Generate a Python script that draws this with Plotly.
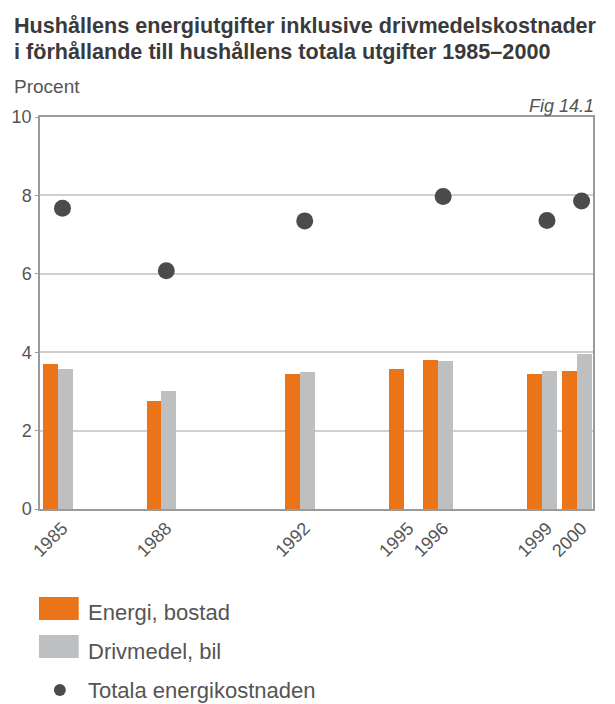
import plotly.graph_objects as go

# Survey years and shares of total household spending (percent)
years = [1985, 1988, 1992, 1995, 1996, 1999, 2000]
energi_bostad = [3.71, 2.76, 3.45, 3.56, 3.80, 3.44, 3.52]
drivmedel_bil = [3.58, 3.02, 3.50, None, 3.77, 3.52, 3.95]
totala = [7.67, 6.08, 7.35, 7.97, 7.36, 7.86]
totala_years = [1985, 1988, 1992, 1996, 1999, 2000]

y_ticks = [0, 2, 4, 6, 8, 10]

ORANGE = "#ec7418"
GREY_BAR = "#bdbfc0"
DOT = "#4b4b4b"
TEXT = "#555555"
FONT = "Liberation Sans"

W, H = 615, 704
L, R, T, B = 36, 22, 117, 195

fig = go.Figure()

fig.add_bar(
    x=years, y=energi_bostad, width=0.43, offset=-0.57,
    marker=dict(color=ORANGE, line=dict(width=0)),
    name="Energi, bostad", showlegend=False,
)
fig.add_bar(
    x=years, y=drivmedel_bil, width=0.43, offset=-0.14,
    marker=dict(color=GREY_BAR, line=dict(width=0)),
    name="Drivmedel, bil", showlegend=False,
)
fig.add_scatter(
    x=totala_years, y=totala, mode="markers",
    marker=dict(color=DOT, size=17, line=dict(width=0)),
    name="Totala energikostnaden", showlegend=False,
)

pw = W - L - R
ph = H - T - B


def px(x):
    return (x - L) / pw


def py(y):
    return (H - B - y) / ph


shapes = [
    # legend swatches
    dict(type="rect", xref="paper", yref="paper",
         x0=px(35), x1=px(75), y0=py(620), y1=py(597),
         fillcolor=ORANGE, line=dict(width=0)),
    dict(type="rect", xref="paper", yref="paper",
         x0=px(35), x1=px(75), y0=py(658), y1=py(635),
         fillcolor=GREY_BAR, line=dict(width=0)),
    dict(type="circle", xref="paper", yref="paper",
         x0=px(50), x1=px(62), y0=py(696), y1=py(684),
         fillcolor=DOT, line=dict(width=0)),
]

annotations = [
    dict(text="<b>Hushållens energiutgifter inklusive drivmedelskostnader</b>",
         x=px(8), y=py(26), xanchor="left", yanchor="middle",
         font=dict(size=21.6, color="#3a3a3a", family=FONT)),
    dict(text="<b>i förhållande till hushållens totala utgifter 1985–2000</b>",
         x=px(8), y=py(52), xanchor="left", yanchor="middle",
         font=dict(size=21.6, color="#3a3a3a", family=FONT)),
    dict(text="Procent", x=px(8), y=py(86), xanchor="left", yanchor="middle",
         font=dict(size=19, color=TEXT, family=FONT)),
    dict(text="<i>Fig 14.1</i>", x=px(596), y=py(106), xanchor="right",
         yanchor="middle", font=dict(size=18, color=TEXT, family=FONT)),
    dict(text="Energi, bostad", x=px(82), y=py(612), xanchor="left",
         yanchor="middle", font=dict(size=22, color=TEXT, family=FONT)),
    dict(text="Drivmedel, bil", x=px(82), y=py(651), xanchor="left",
         yanchor="middle", font=dict(size=22, color=TEXT, family=FONT)),
    dict(text="Totala energikostnaden", x=px(82), y=py(690), xanchor="left",
         yanchor="middle", font=dict(size=22, color=TEXT, family=FONT)),
]
for a in annotations:
    a.update(xref="paper", yref="paper", showarrow=False)

fig.update_layout(
    width=W, height=H,
    margin=dict(l=L, r=R, t=T, b=B, pad=0),
    paper_bgcolor="white", plot_bgcolor="white",
    barmode="overlay", bargap=0,
    showlegend=False,
    shapes=shapes, annotations=annotations,
    font=dict(family=FONT, color=TEXT),
)
fig.update_xaxes(
    range=[1984.35, 2000.33],
    tickmode="array", tickvals=years, ticktext=[str(y) for y in years],
    tickangle=-45, tickfont=dict(size=18, color=TEXT),
    showgrid=False, zeroline=False,
    showline=True, linecolor="#9a9a9a", linewidth=1.5, mirror=True,
    ticks="",
)
fig.update_yaxes(
    range=[0, 10], tickmode="array", tickvals=y_ticks,
    tickfont=dict(size=18, color=TEXT),
    showgrid=True, gridcolor="#cfcfcf", gridwidth=1.5,
    zeroline=False,
    showline=True, linecolor="#9a9a9a", linewidth=1.5, mirror=True,
    ticks="outside", ticklen=3, tickcolor="#9a9a9a",
)

fig.write_html("out.html")
